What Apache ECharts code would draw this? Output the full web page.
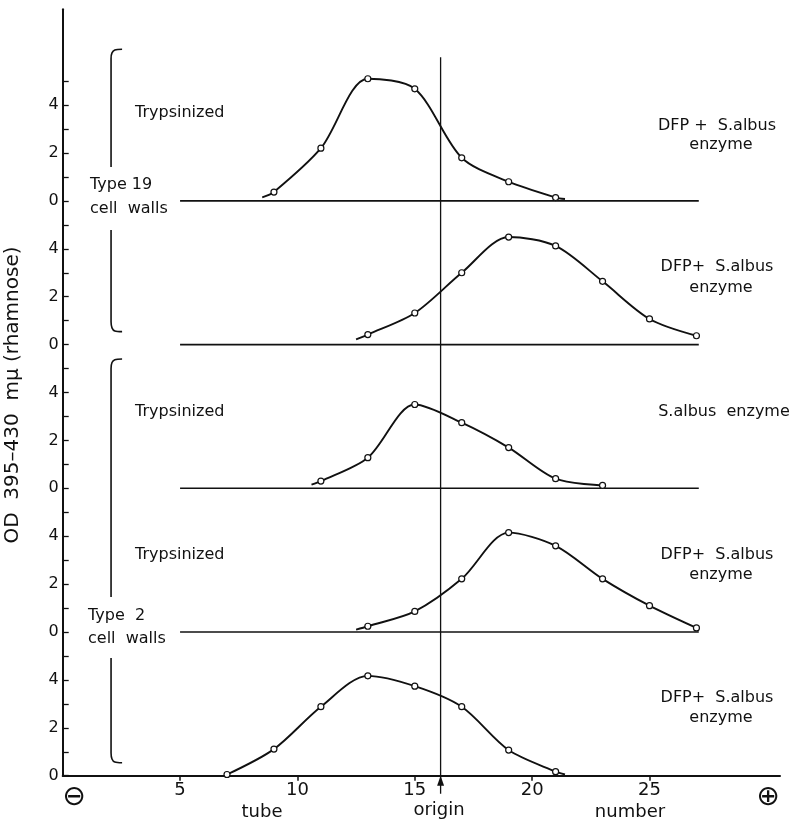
<!DOCTYPE html>
<html>
<head>
<meta charset="utf-8">
<script src="https://cdn.jsdelivr.net/npm/echarts@6/dist/echarts.min.js"></script>
<style>
html,body{margin:0;padding:0;background:#fff;}
#c{width:798px;height:823px;}
</style>
</head>
<body>
<div id="c"></div>
<script>
// ---- data (tube number, OD 395-430 mμ) ----
const panelOffsets = [24, 18, 12, 6, 0]; // each panel occupies 6 OD units on the stacked y scale

const tubes1 = [9, 11, 13, 15, 17, 19, 21];
const od1    = [0.37, 2.2, 5.1, 4.68, 1.8, 0.8, 0.14];
const curveStart1 = [8.5, 0.15], curveEnd1 = [21.4, 0.08];

const tubes2 = [13, 15, 17, 19, 21, 23, 25, 27];
const od2    = [0.42, 1.32, 3.0, 4.49, 4.12, 2.64, 1.07, 0.37];
const curveStart2 = [12.5, 0.22], curveEnd2 = null;

const tubes3 = [11, 13, 15, 17, 19, 21, 23];
const od3    = [0.3, 1.28, 3.5, 2.74, 1.7, 0.4, 0.12];
const curveStart3 = [10.6, 0.15], curveEnd3 = null;

const tubes4 = [13, 15, 17, 19, 21, 23, 25, 27];
const od4    = [0.24, 0.86, 2.22, 4.15, 3.6, 2.22, 1.1, 0.17];
const curveStart4 = [12.5, 0.1], curveEnd4 = null;

const tubes5 = [7, 9, 11, 13, 15, 17, 19, 21];
const od5    = [0.05, 1.11, 2.88, 4.17, 3.74, 2.88, 1.07, 0.17];
const curveStart5 = null, curveEnd5 = [21.4, 0.05];

const baselineRange = [5, 27.1];
const originTube = 16.1;
const xTickValues = [5, 10, 15, 20, 25];
const yTickLabels = ['0', '2', '4'];

const panelTubes = [tubes1, tubes2, tubes3, tubes4, tubes5];
const panelOD = [od1, od2, od3, od4, od5];
const panelStart = [curveStart1, curveStart2, curveStart3, curveStart4, curveStart5];
const panelEnd = [curveEnd1, curveEnd2, curveEnd3, curveEnd4, curveEnd5];

// bracket outlines (x in tube units, y in stacked OD units)
const brackets = [
  [[2.53,30.33],[2.22,30.3],[2.1,30.18],[2.06,29.95],[2.06,25.42]],
  [[2.06,22.78],[2.06,18.95],[2.1,18.7],[2.22,18.57],[2.53,18.54]],
  [[2.53,17.4],[2.22,17.37],[2.1,17.25],[2.06,17.0],[2.06,7.46]],
  [[2.06,4.91],[2.06,0.95],[2.1,0.7],[2.22,0.57],[2.53,0.54]]
];

const FONT = 'DejaVu Sans';
const INK = '#111';

const series = [];
for (let p = 0; p < 5; p++) {
  const off = panelOffsets[p];
  const data = [];
  if (panelStart[p]) data.push({value: [panelStart[p][0], panelStart[p][1] + off], symbol: 'none'});
  panelTubes[p].forEach((t, i) => data.push([t, panelOD[p][i] + off]));
  if (panelEnd[p]) data.push({value: [panelEnd[p][0], panelEnd[p][1] + off], symbol: 'none'});
  series.push({
    type: 'line', data: data, smooth: 0.3,
    symbol: 'circle', symbolSize: 6,
    itemStyle: {color: '#fff', borderColor: INK, borderWidth: 1.2},
    lineStyle: {color: INK, width: 1.9},
    z: 5, silent: true
  });
  if (off > 0) {
    series.push({
      type: 'line', data: [[baselineRange[0], off], [baselineRange[1], off]],
      symbol: 'none', lineStyle: {color: INK, width: 1.6}, silent: true
    });
  }
}
// origin line
series.push({
  type: 'line', data: [[originTube, -0.75], [originTube, 30]], clip: false,
  symbol: 'none', lineStyle: {color: INK, width: 1.3}, silent: true,
  markPoint: {
    symbol: 'triangle', symbolSize: [7, 10], symbolOffset: [0, 5],
    itemStyle: {color: INK}, label: {show: false},
    data: [{coord: [originTube, 0]}]
  }
});
brackets.forEach(b => series.push({
  type: 'line', data: b, symbol: 'none', smooth: 0.3,
  lineStyle: {color: INK, width: 1.6}, silent: true
}));

const yLabelVals = [];
const yTickVals = [];
for (let v = 0; v <= 29; v++) { yTickVals.push(v); if (v % 2 === 0) yLabelVals.push(v); }

function txt(x, y, s, size, align) {
  return {type: 'text', x: x, y: y, style: {text: s, font: `${size}px "${FONT}"`, fill: INK, textAlign: align || 'left', textVerticalAlign: 'middle'}};
}

const chart = echarts.init(document.getElementById('c'));
chart.setOption({
  backgroundColor: '#fff',
  animation: false,
  grid: {left: 62.7, right: 18, top: 9.3, bottom: 47.3, containLabel: false},
  xAxis: {
    type: 'value', min: 0, max: 30.56,
    axisLine: {lineStyle: {color: INK, width: 2}},
    axisTick: {customValues: xTickValues, inside: false, length: 5, lineStyle: {color: INK, width: 1.5}},
    axisLabel: {customValues: xTickValues, color: INK, fontSize: 18, fontFamily: FONT, margin: 6},
    splitLine: {show: false}
  },
  yAxis: {
    type: 'value', min: 0, max: 32,
    axisLine: {show: true, lineStyle: {color: INK, width: 2}},
    axisTick: {show: true, customValues: yTickVals, inside: true, length: 6, lineStyle: {color: INK, width: 1.3}},
    axisLabel: {customValues: yLabelVals, color: INK, fontSize: 16, fontFamily: FONT, margin: 4,
      formatter: v => yTickLabels[(Math.round(v) % 6) / 2]},
    splitLine: {show: false}
  },
  series: series,
  graphic: [
    txt(135, 113, 'Trypsinized', 16),
    txt(135, 412, 'Trypsinized', 16),
    txt(135, 555, 'Trypsinized', 16),
    txt(90, 185, 'Type 19', 16),
    txt(90, 209, 'cell  walls', 16),
    txt(88, 616, 'Type  2', 16),
    txt(88, 639, 'cell  walls', 16),
    txt(717, 126, 'DFP +  S.albus', 16, 'center'),
    txt(721, 145, 'enzyme', 16, 'center'),
    txt(717, 267, 'DFP+  S.albus', 16, 'center'),
    txt(721, 288, 'enzyme', 16, 'center'),
    txt(724, 412, 'S.albus  enzyme', 16, 'center'),
    txt(717, 555, 'DFP+  S.albus', 16, 'center'),
    txt(721, 575, 'enzyme', 16, 'center'),
    txt(717, 698, 'DFP+  S.albus', 16, 'center'),
    txt(721, 718, 'enzyme', 16, 'center'),
    txt(262, 812, 'tube', 18, 'center'),
    txt(439, 810, 'origin', 18, 'center'),
    txt(630, 812, 'number', 18, 'center'),
    txt(74, 798, '⊖', 28, 'center'),
    txt(768, 798, '⊕', 28, 'center'),
    {type: 'text', x: 13, y: 395, rotation: Math.PI / 2,
     style: {text: 'OD  395–430  mμ (rhamnose)', font: `20px "${FONT}"`, fill: INK, textAlign: 'center', textVerticalAlign: 'middle'}}
  ]
});
</script>
</body>
</html>
